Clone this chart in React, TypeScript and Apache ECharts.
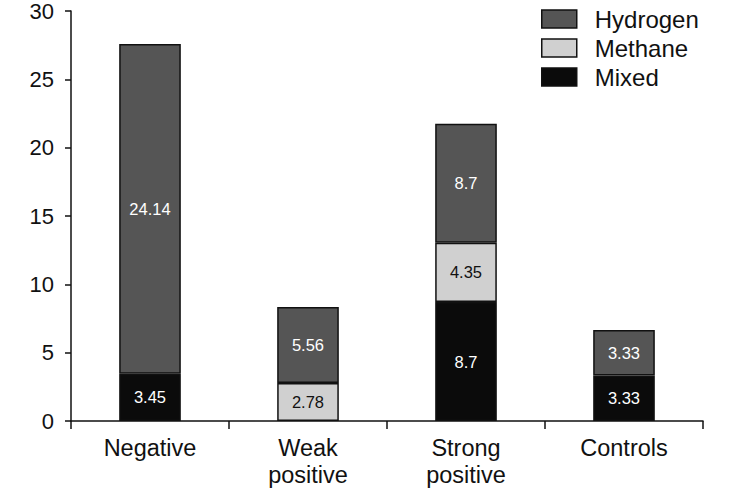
import React, { useEffect, useRef } from "react";
import * as echarts from "echarts";

const categories = ["Negative", "Weak\npositive", "Strong\npositive", "Controls"];
const mixed = [3.45, null, 8.7, 3.33];
const methane = [null, 2.78, 4.35, null];
const hydrogen = [24.14, 5.56, 8.7, 3.33];
const yTicks = { min: 0, max: 30, interval: 5 };

export default function App() {
  const ref = useRef<HTMLDivElement>(null);
  useEffect(() => {
    if (!ref.current) return;
    const chart = echarts.init(ref.current, undefined, { renderer: "svg" });
    const font = "Liberation Sans, Arial, sans-serif";
    const mk = (name: string, data: any[], color: string, labelColor: string) => ({
      name,
      type: "bar",
      stack: "total",
      data,
      barWidth: "39%",
      itemStyle: { color, borderColor: "#111", borderWidth: 1.5 },
      label: {
        show: true,
        position: "inside",
        color: labelColor,
        fontSize: 16.5,
        fontFamily: font,
      },
    });
    chart.setOption({
      animation: false,
      backgroundColor: "#fff",
      grid: { left: 71, right: 28, top: 10, bottom: 73, containLabel: false },
      legend: {
        orient: "vertical",
        left: 541,
        top: 7,
        padding: 0,
        itemWidth: 35,
        itemHeight: 18,
        itemGap: 5,
        icon: "rect",
        data: ["Hydrogen", "Methane", "Mixed"],
        textStyle: {
          fontSize: 24,
          fontFamily: font,
          color: "#111",
          padding: [0, 0, 0, 13],
        },
        itemStyle: { borderColor: "#111", borderWidth: 1.5 },
      },
      xAxis: {
        type: "category",
        data: categories,
        axisLine: { lineStyle: { color: "#111", width: 1.5 } },
        axisTick: { show: true, length: 8, lineStyle: { color: "#111", width: 1.5 } },
        axisLabel: { fontSize: 23.5, fontFamily: font, color: "#111", margin: 13, lineHeight: 27 },
      },
      yAxis: {
        type: "value",
        min: yTicks.min,
        max: yTicks.max,
        interval: yTicks.interval,
        splitLine: { show: false },
        axisLine: { show: true, lineStyle: { color: "#111", width: 1.5 } },
        axisTick: { show: true, length: 6, lineStyle: { color: "#111", width: 1.5 } },
        axisLabel: { fontSize: 22, fontFamily: font, color: "#111", margin: 17, padding: [4, 0, 0, 0] },
      },
      series: [
        mk("Mixed", mixed, "#0b0b0b", "#fff"),
        mk("Methane", methane, "#d0d0d0", "#111"),
        mk("Hydrogen", hydrogen, "#555555", "#fff"),
      ],
    });
    return () => chart.dispose();
  }, []);
  return (
    <div
      ref={ref}
      style={{ position: "absolute", left: 0, top: 0, width: 731, height: 494 }}
    />
  );
}
